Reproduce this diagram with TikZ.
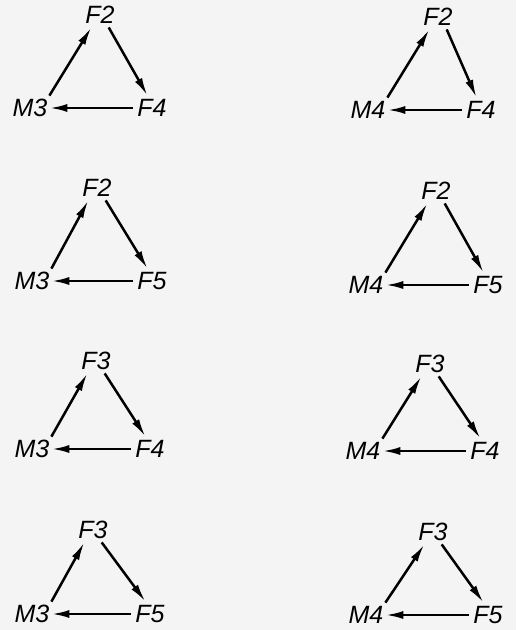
\documentclass[tikz,border=0pt]{standalone}
\usepackage{fontspec}
\newfontfamily\handfont{Liberation Sans}
\usetikzlibrary{arrows.meta}
\definecolor{paper}{RGB}{244,244,244}

\begin{document}
\begin{tikzpicture}[x=0.5pt,y=-0.5pt,
  lbl/.style={inner sep=0pt,minimum width=19pt,minimum height=12pt,
    font=\handfont\itshape\fontsize{12.5}{13}\selectfont},
  arr/.style={line width=1.25pt,-{Latex[length=9pt,width=4pt]}}]
\fill[paper] (0,0) rectangle (516,630);
\useasboundingbox (0,0) rectangle (516,630);
% left column
\node[lbl] (t1) at (100,15) {F2};
\node[lbl] (m1) at (30,108) {M3};
\node[lbl] (r1) at (152,108) {F4};
\draw[arr] (m1.north east) -- (t1.235);
\draw[arr] (t1.-55) -- (r1.110);
\draw[arr] (r1.west) -- (m1.east);
\node[lbl] (t2) at (97,188) {F2};
\node[lbl] (m2) at (32,281) {M3};
\node[lbl] (r2) at (152,281) {F5};
\draw[arr] (m2.north east) -- (t2.235);
\draw[arr] (t2.-55) -- (r2.110);
\draw[arr] (r2.west) -- (m2.east);
\node[lbl] (t3) at (96,361) {F3};
\node[lbl] (m3) at (32,449) {M3};
\node[lbl] (r3) at (150,449) {F4};
\draw[arr] (m3.north east) -- (t3.235);
\draw[arr] (t3.-55) -- (r3.110);
\draw[arr] (r3.west) -- (m3.east);
\node[lbl] (t4) at (93,530) {F3};
\node[lbl] (m4) at (32,614) {M3};
\node[lbl] (r4) at (150,614) {F5};
\draw[arr] (m4.north east) -- (t4.235);
\draw[arr] (t4.-55) -- (r4.110);
\draw[arr] (r4.west) -- (m4.east);
% right column
\node[lbl] (t5) at (438,17) {F2};
\node[lbl] (m5) at (368,110) {M4};
\node[lbl] (r5) at (481,110) {F4};
\draw[arr] (m5.north east) -- (t5.235);
\draw[arr] (t5.-55) -- (r5.110);
\draw[arr] (r5.west) -- (m5.east);
\node[lbl] (t6) at (436,191) {F2};
\node[lbl] (m6) at (366,285) {M4};
\node[lbl] (r6) at (488,285) {F5};
\draw[arr] (m6.north east) -- (t6.235);
\draw[arr] (t6.-55) -- (r6.110);
\draw[arr] (r6.west) -- (m6.east);
\node[lbl] (t7) at (430,364) {F3};
\node[lbl] (m7) at (363,451) {M4};
\node[lbl] (r7) at (485,451) {F4};
\draw[arr] (m7.north east) -- (t7.235);
\draw[arr] (t7.-55) -- (r7.110);
\draw[arr] (r7.west) -- (m7.east);
\node[lbl] (t8) at (433,532) {F3};
\node[lbl] (m8) at (366,615) {M4};
\node[lbl] (r8) at (488,615) {F5};
\draw[arr] (m8.north east) -- (t8.235);
\draw[arr] (t8.-55) -- (r8.110);
\draw[arr] (r8.west) -- (m8.east);
\end{tikzpicture}
\end{document}
